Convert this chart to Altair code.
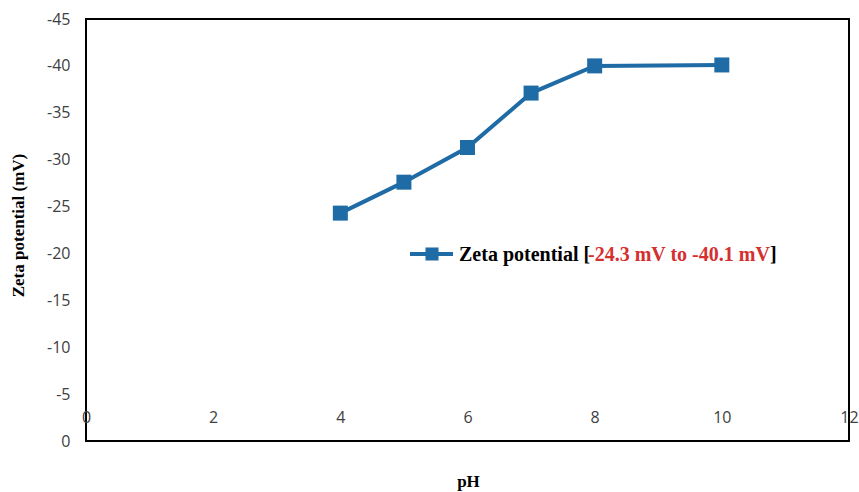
import altair as alt
import pandas as pd

# Zeta potential measured at each pH
ph_values = [4, 5, 6, 7, 8, 10]
zeta_mv = [-24.3, -27.6, -31.3, -37.1, -40.0, -40.1]

x_ticks = [0, 2, 4, 6, 8, 10, 12]
y_ticks = [-45, -40, -35, -30, -25, -20, -15, -10, -5, 0]

legend_prefix = "Zeta potential ["
legend_range = "-24.3 mV to -40.1 mV"
legend_suffix = "]"

df = pd.DataFrame({"pH": ph_values, "zeta": zeta_mv})

LINE_COLOR = "#1F6BA5"
LABEL_COLOR = "#404040"
PLAIN_LABEL = "'' + datum.value"

x_enc = alt.X(
    "pH:Q",
    scale=alt.Scale(domain=[0, 12], nice=False),
    axis=alt.Axis(
        values=x_ticks,
        labelExpr=PLAIN_LABEL,
        title="pH",
        offset=-32,
        domain=False,
        ticks=False,
        grid=False,
        labelPadding=0,
        labelFont="Open Sans",
        labelFontSize=16,
        labelColor=LABEL_COLOR,
        labelFlush=False,
        labelOverlap=False,
        titleFont="Liberation Serif",
        titleFontSize=17,
        titleFontWeight="bold",
        titleColor="black",
        titleX=382,
        titleY=72,
        titleBaseline="middle",
    ),
)
y_enc = alt.Y(
    "zeta:Q",
    scale=alt.Scale(domain=[0, -45], nice=False),
    axis=alt.Axis(
        values=y_ticks,
        labelExpr=PLAIN_LABEL,
        title="Zeta potential (mV)",
        domain=False,
        ticks=False,
        grid=False,
        labelPadding=16,
        labelFont="Open Sans",
        labelFontSize=16,
        labelColor=LABEL_COLOR,
        labelFlush=False,
        labelOverlap=False,
        titleFont="Liberation Serif",
        titleFontSize=17,
        titleFontWeight="bold",
        titleColor="black",
        titleAngle=-90,
        titleX=-68,
        titleY=206,
        titleAlign="center",
        titleBaseline="middle",
    ),
)

base = alt.Chart(df)
line = base.mark_line(color=LINE_COLOR, strokeWidth=4).encode(x=x_enc, y=y_enc)
points = base.mark_point(
    shape="square", filled=True, size=225, color=LINE_COLOR, opacity=1
).encode(x="pH:Q", y="zeta:Q")

# Legend entry: sample line with marker, then the label in three colored runs
leg_src = alt.Chart(pd.DataFrame({"k": [0]}))
leg_line = leg_src.mark_rule(color=LINE_COLOR, strokeWidth=4).encode(
    x=alt.value(324), x2=alt.value(367), y=alt.value(235)
)
leg_marker = leg_src.mark_point(
    shape="square", filled=True, size=170, color=LINE_COLOR, opacity=1
).encode(x=alt.value(346), y=alt.value(235))
leg_text_style = dict(font="Liberation Serif", fontSize=20, fontWeight="bold",
                      baseline="middle", align="left")
leg_t1 = leg_src.mark_text(color="black", **leg_text_style).encode(
    x=alt.value(373), y=alt.value(236), text=alt.value(legend_prefix)
)
leg_t2 = leg_src.mark_text(color="#D62F2F", **leg_text_style).encode(
    x=alt.value(502), y=alt.value(236), text=alt.value(legend_range)
)
leg_t3 = leg_src.mark_text(color="black", **leg_text_style).encode(
    x=alt.value(684), y=alt.value(236), text=alt.value(legend_suffix)
)

chart = (
    alt.layer(line, points, leg_line, leg_marker, leg_t1, leg_t2, leg_t3)
    .properties(
        width=763,
        height=422,
        autosize=alt.AutoSizeParams(type="none"),
        padding={"left": 86, "top": 19, "right": 10, "bottom": 51},
        background="white",
    )
    .configure_view(stroke="black", strokeWidth=2)
)

chart.save("out.html", embed_options={"renderer": "svg", "actions": False})
